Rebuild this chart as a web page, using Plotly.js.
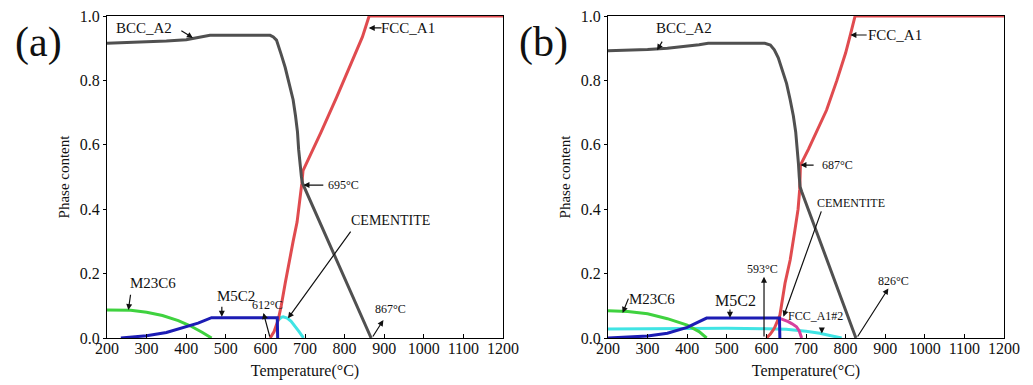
<!DOCTYPE html>
<html>
<head>
<meta charset="utf-8">
<script src="https://cdn.plot.ly/plotly-3.0.1.min.js"></script>
<style>html,body{margin:0;padding:0;background:#fff;}#chart{width:1033px;height:385px;}</style>
</head>
<body>
<div id="chart"></div>
<script>
// ---------- Panel (a) data ----------
const aBccT = [200,250,300,350,400,430,460,600,612,620,628,640,650,660,670,676,681,684,688,691,694,867];
const aBccV = [0.915,0.917,0.919,0.922,0.926,0.932,0.94,0.94,0.94,0.935,0.925,0.88,0.84,0.79,0.74,0.69,0.64,0.585,0.53,0.5,0.48,0];
const aFccT = [612,622,632,640,650,660,670,680,688,692,695,720,740,780,820,845,862,1200];
const aFccV = [0,0.02,0.055,0.1,0.17,0.24,0.3,0.36,0.43,0.48,0.52,0.585,0.638,0.748,0.862,0.935,1.0,1.0];
const aM23T = [200,230,260,300,340,380,410,440,456,464];
const aM23V = [0.087,0.087,0.086,0.08,0.07,0.054,0.038,0.018,0.005,0];
const aM5T  = [235,260,300,350,400,430,464,630,631];
const aM5V  = [0,0.002,0.007,0.017,0.034,0.046,0.063,0.063,0];
const aCemT = [633,640,645,655,665,675,685,693,696];
const aCemV = [0.056,0.064,0.066,0.062,0.052,0.037,0.02,0.006,0];

// ---------- Panel (b) data ----------
const bBccT = [200,250,300,350,400,430,453,596,610,620,630,640,651,660,668,674,678,681,683,685,689,826];
const bBccV = [0.892,0.893,0.896,0.9,0.906,0.911,0.915,0.915,0.91,0.895,0.87,0.83,0.79,0.74,0.69,0.64,0.59,0.54,0.5,0.47,0.455,0];
const bFccT = [600,610,620,634,647,660,672,680,684,686,706,726,752,778,800,811,824,1200];
const bFccV = [0,0.012,0.03,0.07,0.17,0.242,0.335,0.4,0.46,0.537,0.586,0.637,0.708,0.8,0.885,0.937,1.0,1.0];
const bM23T = [200,250,300,350,400,430,449];
const bM23V = [0.085,0.082,0.075,0.06,0.04,0.02,0];
const bM5T  = [200,250,300,350,400,449,633,634];
const bM5V  = [0,0.002,0.006,0.015,0.033,0.062,0.062,0];
const bFcc2T = [200,300,400,500,600,650,700,735,760,790];
const bFcc2V = [0.028,0.029,0.03,0.03,0.029,0.027,0.021,0.015,0.008,0];
const bCemT = [634,645,655,665,676,683,687,689];
const bCemV = [0.061,0.057,0.051,0.044,0.035,0.022,0.01,0];

const xTicks = [200,300,400,500,600,700,800,900,1000,1100,1200];
const yTicks = [0,0.2,0.4,0.6,0.8,1.0];

const C = {gray:'#505050', red:'#e04b4f', green:'#3fd23f', blue:'#1c1cb4', cyan:'#40e4e4', mag:'#d8409e'};
const LW = 3;
function tr(x,y,color,xa,ya){
  return {x:x,y:y,type:'scatter',mode:'lines',line:{color:color,width:LW},xaxis:xa,yaxis:ya,hoverinfo:'skip'};
}
const data = [
  tr(aM23T,aM23V,C.green,'x','y'),
  tr(aCemT,aCemV,C.cyan,'x','y'),
  tr(aFccT,aFccV,C.red,'x','y'),
  tr(aM5T,aM5V,C.blue,'x','y'),
  tr(aBccT,aBccV,C.gray,'x','y'),
  tr(bFcc2T,bFcc2V,C.cyan,'x2','y2'),
  tr(bM23T,bM23V,C.green,'x2','y2'),
  tr(bCemT,bCemV,C.mag,'x2','y2'),
  tr(bFccT,bFccV,C.red,'x2','y2'),
  tr(bM5T,bM5V,C.blue,'x2','y2'),
  tr(bBccT,bBccV,C.gray,'x2','y2')
];

const F = "'Liberation Serif', 'Times New Roman', serif";
function xax(dom, anchor){
  return {domain:dom, anchor:anchor, range:[200,1200], tickvals:xTicks, ticks:'inside', ticklen:4,
    tickcolor:'#000', showline:true, linecolor:'#000', linewidth:1, mirror:true, showgrid:false, zeroline:false,
    ticklabelstandoff:-4,
    tickfont:{family:F,size:16,color:'#111'},
    title:{text:'Temperature(°C)', font:{family:F,size:16,color:'#111'}, standoff:8}};
}
function yax(dom, anchor){
  return {domain:dom, anchor:anchor, range:[0,1], tickvals:yTicks, tickformat:'.1f', ticks:'outside', ticklen:3,
    tickcolor:'#000', showline:true, linecolor:'#000', linewidth:1, mirror:true, showgrid:false, zeroline:false,
    tickfont:{family:F,size:16,color:'#111'},
    title:{text:'Phase content', font:{family:F,size:15,color:'#111'}, standoff:6}};
}
const yd = [47/385, 369/385];

function txt(xr,yr,x,y,t,size){
  return {xref:xr,yref:yr,x:x,y:y,text:t,showarrow:false,font:{family:F,size:size,color:'#111'},xanchor:'center',yanchor:'middle'};
}
function arr(xr,yr,x0,y0,x1,y1){
  return {xref:xr,yref:yr,axref:xr,ayref:yr,ax:x0,ay:y0,x:x1,y:y1,text:'',showarrow:true,
    arrowhead:2,arrowsize:1,arrowwidth:1.2,arrowcolor:'#111'};
}
const ann = [
  {xref:'paper',yref:'paper',x:38/1033,y:1-42/385,text:'(a)',showarrow:false,font:{family:F,size:42,color:'#111'},xanchor:'center',yanchor:'middle'},
  {xref:'paper',yref:'paper',x:543/1033,y:1-42/385,text:'(b)',showarrow:false,font:{family:F,size:42,color:'#111'},xanchor:'center',yanchor:'middle'},
  // panel a
  txt('x','y',293,0.963,'BCC_A2',15), arr('x','y',384,0.957,417,0.932),
  txt('x','y',960,0.963,'FCC_A1',15), arr('x','y',897,0.963,861,0.963),
  txt('x','y',798,0.475,'695°C',12), arr('x','y',750,0.475,696,0.475),
  txt('x','y',915,0.366,'CEMENTITE',14), arr('x','y',818,0.335,657,0.061),
  txt('x','y',315,0.171,'M23C6',15), arr('x','y',260,0.139,254,0.087),
  txt('x','y',527,0.13,'M5C2',15), arr('x','y',490,0.102,490,0.066),
  txt('x','y',605,0.102,'612°C',12), arr('x','y',612,0,595,0.078),
  txt('x','y',917,0.09,'867°C',12), arr('x','y',869,0,898,0.056),
  // panel b
  txt('x2','y2',391,0.963,'BCC_A2',15), arr('x2','y2',339,0.925,324,0.894),
  txt('x2','y2',925,0.941,'FCC_A1',15), arr('x2','y2',857,0.941,812,0.941),
  txt('x2','y2',780,0.537,'687°C',12), arr('x2','y2',723,0.537,686,0.537),
  txt('x2','y2',814,0.419,'CEMENTITE',12), arr('x2','y2',740,0.398,643,0.066),
  txt('x2','y2',589,0.214,'593°C',12), arr('x2','y2',594,0,594,0.19),
  txt('x2','y2',920,0.177,'826°C',12), arr('x2','y2',828,0,908,0.154),
  txt('x2','y2',310,0.121,'M23C6',15), arr('x2','y2',253,0.127,237,0.078),
  txt('x2','y2',523,0.118,'M5C2',16), arr('x2','y2',508,0.093,508,0.063),
  txt('x2','y2',723,0.068,'FCC_A1#2',12), arr('x2','y2',740,0.036,740,0.014)
];

const layout = {
  width:1033, height:385, margin:{l:0,r:0,t:0,b:0}, paper_bgcolor:'#fff', plot_bgcolor:'#fff',
  showlegend:false,
  xaxis: xax([107/1033, 503/1033],'y'),
  yaxis: yax(yd,'x'),
  xaxis2: xax([608/1033, 1004/1033],'y2'),
  yaxis2: yax(yd,'x2'),
  annotations: ann
};
Plotly.newPlot('chart', data, layout, {staticPlot:true, displayModeBar:false});
</script>
</body>
</html>
